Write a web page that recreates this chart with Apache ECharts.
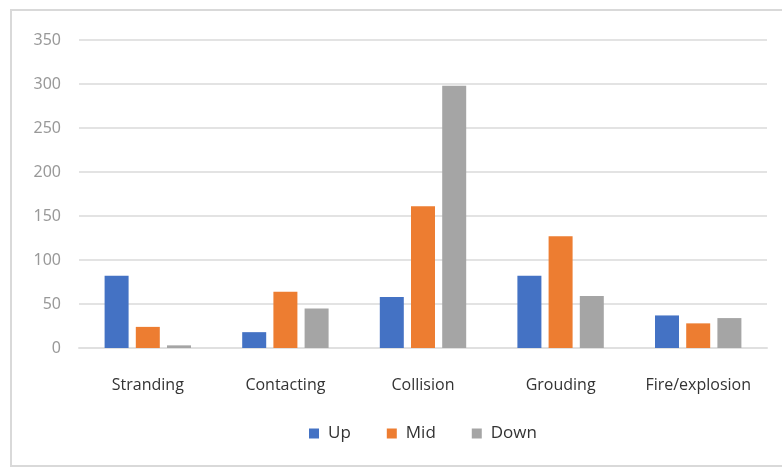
<!DOCTYPE html>
<html>
<head>
<meta charset="utf-8">
<script src="https://cdn.jsdelivr.net/npm/echarts@6/dist/echarts.min.js"></script>
<style>
  html, body { margin: 0; padding: 0; background: #fff; }
  #chart { width: 782px; height: 468px; }
</style>
</head>
<body>
<div id="chart"></div>
<script>
const categories = ['Stranding', 'Contacting', 'Collision', 'Grouding', 'Fire/explosion']
const upValues = [82, 18, 58, 82, 37]
const midValues = [24, 64, 161, 127, 28]
const downValues = [3, 45, 298, 59, 34]
const yTicks = [0, 50, 100, 150, 200, 250, 300, 350]

const chart = echarts.init(document.getElementById('chart'))

const barStyle = (name, data, color) => ({
  name,
  type: 'bar',
  data,
  barWidth: 24,
  barGap: '30%',
  itemStyle: { color },
})

chart.setOption({
  animation: false,
  textStyle: { fontFamily: 'Noto Sans' },
  graphic: [
    {
      type: 'rect',
      shape: { x: 11, y: 10, width: 820, height: 456 },
      style: { fill: 'none', stroke: '#d9d9d9', lineWidth: 2 },
    },
  ],
  grid: { left: 79, right: 15, top: 40, bottom: 120 },
  legend: {
    bottom: 21,
    left: 304,
    itemWidth: 10,
    itemHeight: 10,
    itemGap: 36,
    icon: 'rect',
    textStyle: { color: '#333', fontSize: 17, fontFamily: 'Open Sans', padding: [0, 0, 0, 4] },
    data: ['Up', 'Mid', 'Down'],
  },
  xAxis: {
    type: 'category',
    data: categories,
    axisLine: { lineStyle: { color: '#e0e0e0', width: 2 } },
    axisTick: { show: false },
    axisLabel: { color: '#333', fontSize: 16, margin: 29, fontFamily: 'Open Sans' },
  },
  yAxis: {
    type: 'value',
    min: yTicks[0],
    max: yTicks[yTicks.length - 1],
    interval: 50,
    axisLine: { show: false },
    axisTick: { show: false },
    axisLabel: { color: '#999', fontSize: 16, margin: 18 },
    splitLine: { lineStyle: { color: '#e3e3e3', width: 2 } },
  },
  series: [
    barStyle('Up', upValues, '#4472C4'),
    barStyle('Mid', midValues, '#ED7D31'),
    barStyle('Down', downValues, '#A5A5A5'),
  ],
})
</script>
</body>
</html>
